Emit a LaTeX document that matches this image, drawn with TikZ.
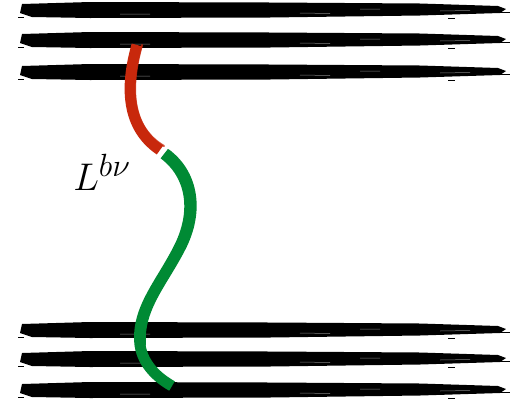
\documentclass[tikz,border=0pt]{standalone}
\usetikzlibrary{calc}
\definecolor{brushred}{RGB}{200,40,12}
\definecolor{brushgreen}{RGB}{0,138,52}
\tikzset{
  brushline/.style={line width=#1, line cap=round},
}
\newcommand{\blackstroke}[1]{%
  \fill[black] (22,#1-6) -- (90,#1-8) -- (270,#1-7.5) -- (420,#1-6.5) -- (498,#1-4) -- (506,#1-1)
     -- (500,#1+3) -- (420,#1+5.5) -- (270,#1+7.5) -- (90,#1+8) -- (32,#1+7) -- (20,#1+3) -- cycle;
  \draw[white, line width=0.5pt, opacity=0.5] (300,#1+3) -- (330,#1+3.5) (360,#1-1) -- (380,#1-1) (440,#1+1) -- (470,#1+0.5) (120,#1+4) -- (150,#1+4);
  \draw[black, line width=1pt] (18,#1+7) -- (24,#1+7) (448,#1+8.5) -- (455,#1+8.5) (500,#1+2) -- (510,#1+2);
}
\begin{document}
\begin{tikzpicture}[x=1pt,y=-1pt]
\useasboundingbox (0,0) rectangle (530,405);
% black strokes
\blackstroke{10}
\blackstroke{40}
\blackstroke{72}
\blackstroke{330}
\blackstroke{359}
\blackstroke{390}
% red curve
\coordinate (r0) at (137,45);
\coordinate (r1) at (160,150);
\draw[brushred, brushline=11pt, line cap=butt] (r0) .. controls (127,80) and (123,125) .. (r1);
\draw[brushred, brushline=2pt, opacity=0.8] ($(r0)+(5,0)$) .. controls (132,80) and (128,125) .. ($(r1)+(4,-4)$);
% green curve
\coordinate (g0) at (164,154);
\coordinate (g1) at (178,250);
\coordinate (g2) at (140,345);
\coordinate (g3) at (172,386);
\draw[brushgreen, brushline=11pt, line cap=butt] (g0) .. controls (192,175) and (198,212) .. (g1)
   .. controls (160,285) and (136,310) .. (g2) .. controls (143,365) and (158,378) .. (g3);
\draw[brushgreen, brushline=2pt] ($(g0)+(4,-4)$) .. controls (198,172) and (204,212) .. ($(g1)+(6,0)$)
   .. controls (166,285) and (142,310) .. ($(g2)+(5,0)$);
% label
\node[font=\Huge, scale=1.55, inner sep=0pt] (lab) at (102,172) {$L^{b\nu}$};
\end{tikzpicture}
\end{document}
